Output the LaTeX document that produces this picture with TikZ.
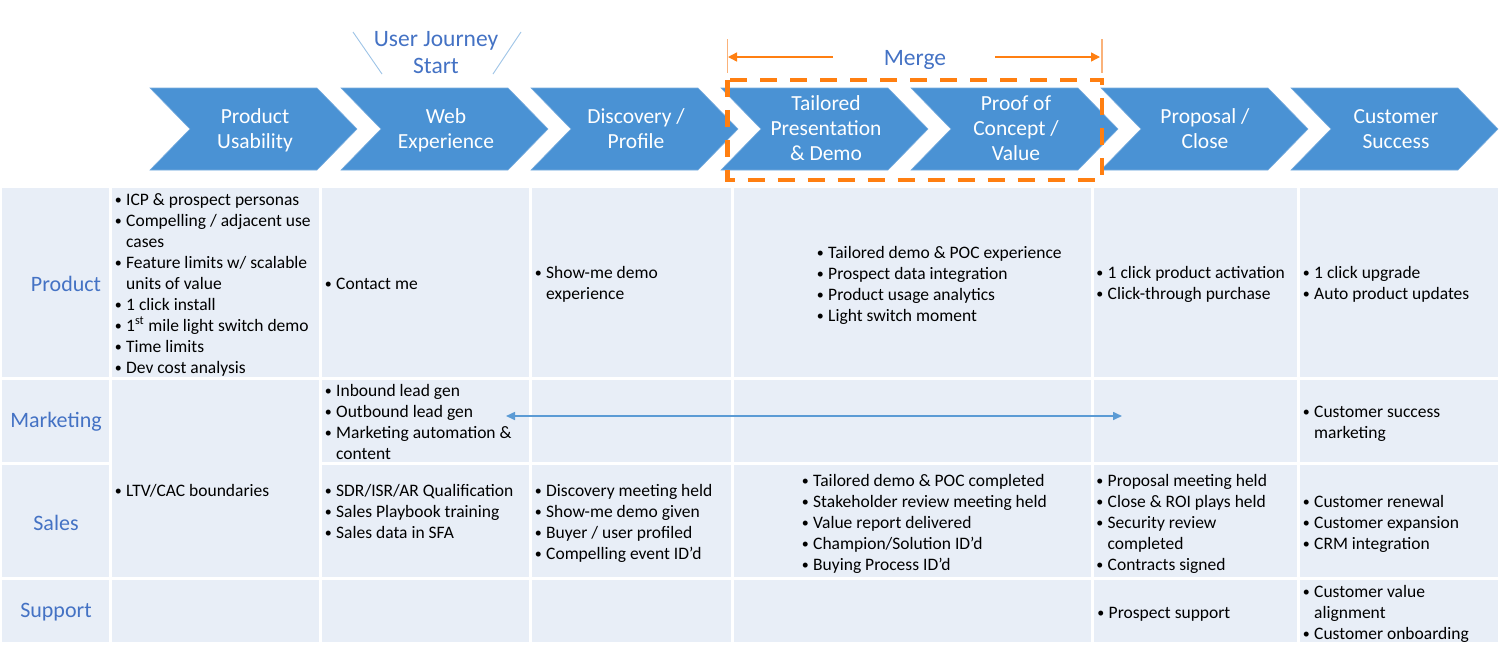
\documentclass[tikz,border=0pt]{standalone}
\usepackage{fontspec}
\setmainfont{Carlito}
\usetikzlibrary{arrows.meta}
\definecolor{chevblue}{RGB}{74,146,212}
\definecolor{chevedge}{RGB}{120,172,222}
\definecolor{labblue}{RGB}{68,114,196}
\definecolor{cellbg}{RGB}{232,238,247}
\definecolor{mergeor}{RGB}{255,127,17}
\definecolor{mergelight}{RGB}{250,178,122}
\definecolor{arrblue}{RGB}{91,155,213}
\definecolor{diagblue}{RGB}{157,195,230}
\newcommand{\bl}[1]{\makebox[12pt][l]{\hspace*{0.6pt}\raisebox{0.6pt}{\scalebox{0.8}{•}}}#1}
\newcommand{\ind}[1]{\hspace*{12pt}#1}
\newcommand{\chevshape}[1]{%
  \fill[chev] (#1,88) -- ({#1+167},88) -- ({#1+207},129) -- ({#1+167},170) -- (#1,170) -- ({#1+40},129) -- cycle;}
\begin{document}
\begin{tikzpicture}[x=1pt,y=-1pt,
  chev/.style={fill=chevblue,draw=chevedge,line width=0.6pt},
  chevtext/.style={text=white,align=center,anchor=base,font=\fontsize{21.5}{25}\selectfont,inner sep=0pt},
  rowlab/.style={text=labblue,font=\fontsize{22}{26}\selectfont,inner sep=0pt},
  toplab/.style={text=labblue,align=center,anchor=base,font=\fontsize{23.5}{27}\selectfont,inner sep=0pt},
  cell/.style={align=left,anchor=base west,font=\fontsize{17.5}{21}\selectfont,inner sep=0pt,text=black},
  gridline/.style={white,line width=3pt},
  mergebox/.style={mergeor,line width=4.8pt,dash pattern=on 17pt off 13pt},
  mergearr/.style={mergeor,line width=1.4pt,-{Triangle[length=9pt,width=9pt]}},
  mergebar/.style={mergelight,line width=1.4pt},
  dblarr/.style={arrblue,line width=1.6pt,{Triangle[length=9pt,width=8pt]}-{Triangle[length=9pt,width=8pt]}},
  diag/.style={diagblue,line width=0.9pt}]
\useasboundingbox (0,0) rectangle (1500,654);

% ---------- table background and grid ----------
\fill[cellbg] (2,188) rectangle (1498,642);
\foreach \cx in {110,320,530,732,1092,1298} {\draw[gridline] (\cx,186) -- (\cx,644);}
\draw[gridline] (0,378) -- (1500,378);
\draw[gridline] (0,463) -- (110,463);
\draw[gridline] (320,463) -- (1500,463);
\draw[gridline] (0,578) -- (1500,578);

% ---------- chevrons ----------
\chevshape{150}
\chevshape{341}
\chevshape{531}
\chevshape{721}
\chevshape{911}
\chevshape{1101}
\chevshape{1291}
\node[chevtext] (c1) at (255,148) {Product\\Usability};
\node[chevtext] (c2) at (446,148) {Web\\Experience};
\node[chevtext] (c3) at (636,148) {Discovery /\\Profile};
\node[chevtext] (c4) at (826,160) {Tailored\\Presentation\\\& Demo};
\node[chevtext] (c5) at (1016,160) {Proof of\\Concept /\\Value};
\node[chevtext] (c6) at (1205,148) {Proposal /\\Close};
\node[chevtext] (c7) at (1396,148) {Customer\\Success};

% ---------- merge box ----------
\draw[mergebox] (727.5,80) rectangle (1102,180);
\node[toplab] (merge) at (915,65) {Merge};
\coordinate (mL) at (728,57);
\coordinate (mLs) at (833,57);
\coordinate (mR) at (1100,57);
\coordinate (mRs) at (995,57);
\draw[mergearr] (mLs) -- (mL);
\draw[mergearr] (mRs) -- (mR);
\draw[mergebar] (727.5,39) -- (727.5,73);
\draw[mergebar] (1102,39) -- (1102,73);

% ---------- user journey start ----------
\node[toplab] (ujs) at (436,73) {User Journey\\Start};
\draw[diag] (353,32) -- (382,74);
\draw[diag] (521,32) -- (493,74);

% ---------- row labels ----------
\node[rowlab] (lprod) at (66,284) {Product};
\node[rowlab] (lmark) at (56,422) {Marketing};
\node[rowlab] (lsales) at (56,523) {Sales};
\node[rowlab] (lsupp) at (56,612) {Support};

% ---------- Product row ----------
\node[cell] (p1) at (114,373) {\bl{ICP \& prospect personas}\\\bl{Compelling / adjacent use}\\\ind{cases}\\\bl{Feature limits w/ scalable}\\\ind{units of value}\\\bl{1 click install}\\\bl{1\textsuperscript{st} mile light switch demo}\\\bl{Time limits}\\\bl{Dev cost analysis}};
\node[cell] (p2) at (324,289) {\bl{Contact me}};
\node[cell] (p3) at (534,299) {\bl{Show-me demo}\\\ind{experience}};
\node[cell] (p4) at (816,321) {\bl{Tailored demo \& POC experience}\\\bl{Prospect data integration}\\\bl{Product usage analytics}\\\bl{Light switch moment}};
\node[cell] (p5) at (1095.5,299) {\bl{1 click product activation}\\\bl{Click-through purchase}};
\node[cell] (p6) at (1302,299) {\bl{1 click upgrade}\\\bl{Auto product updates}};

% ---------- Marketing row ----------
\node[cell] (m2) at (324,459) {\bl{Inbound lead gen}\\\bl{Outbound lead gen}\\\bl{Marketing automation \&}\\\ind{content}};
\node[cell] (m6) at (1302,438) {\bl{Customer success}\\\ind{marketing}};
\coordinate (aL) at (506,416);
\coordinate (aR) at (1122,416);
\draw[dblarr] (aL) -- (aR);

% ---------- Sales row ----------
\node[cell] (s1) at (114,496) {\bl{LTV/CAC boundaries}};
\node[cell] (s2) at (324,538) {\bl{SDR/ISR/AR Qualification}\\\bl{Sales Playbook training}\\\bl{Sales data in SFA}};
\node[cell] (s3) at (534,559) {\bl{Discovery meeting held}\\\bl{Show-me demo given}\\\bl{Buyer / user profiled}\\\bl{Compelling event ID’d}};
\node[cell] (s4) at (801,570) {\bl{Tailored demo \& POC completed}\\\bl{Stakeholder review meeting held}\\\bl{Value report delivered}\\\bl{Champion/Solution ID’d}\\\bl{Buying Process ID’d}};
\node[cell] (s5) at (1095.5,570) {\bl{Proposal meeting held}\\\bl{Close \& ROI plays held}\\\bl{Security review}\\\ind{completed}\\\bl{Contracts signed}};
\node[cell] (s6) at (1302,549) {\bl{Customer renewal}\\\bl{Customer expansion}\\\bl{CRM integration}};

% ---------- Support row ----------
\node[cell] (u5) at (1096.5,618) {\bl{Prospect support}};
\node[cell] (u6) at (1302,639) {\bl{Customer value}\\\ind{alignment}\\\bl{Customer onboarding}};
\end{tikzpicture}
\end{document}
